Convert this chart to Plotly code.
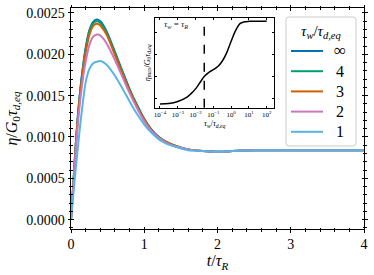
import plotly.graph_objects as go

# ---- main panel data ----
t = [0, 0.02, 0.04, 0.06, 0.08, 0.1, 0.125, 0.15, 0.175, 0.2, 0.25, 0.3, 0.35, 0.4, 0.45, 0.5,
     0.6, 0.7, 0.8, 0.9, 1.0, 1.1, 1.2, 1.3, 1.4, 1.5, 1.6, 1.8, 2.0, 2.2, 2.5, 3.0, 3.5, 4.0]

eta_inf = [0, 0.00027, 0.00055, 0.00085, 0.00110, 0.00133, 0.00156, 0.00176, 0.00193, 0.00208,
           0.00229, 0.00239, 0.00242, 0.00240, 0.00234, 0.00225, 0.00203, 0.00180, 0.00158,
           0.00139, 0.00122, 0.00109, 0.00100, 0.00094, 0.00090, 0.00087, 0.00085, 0.00083,
           0.00082, 0.00083, 0.00084, 0.00084, 0.00084, 0.00084]
eta_4 = [0, 0.00027, 0.00055, 0.00084, 0.00109, 0.00132, 0.00155, 0.00174, 0.00191, 0.00206,
         0.00227, 0.00237, 0.00240, 0.00238, 0.00232, 0.00223, 0.00201, 0.00179, 0.00157,
         0.00138, 0.00121, 0.00108, 0.00100, 0.00094, 0.00090, 0.00087, 0.00085, 0.00083,
         0.00082, 0.00083, 0.00084, 0.00084, 0.00084, 0.00084]
eta_3 = [0, 0.00027, 0.00054, 0.00082, 0.00107, 0.00129, 0.00152, 0.00171, 0.00188, 0.00202,
         0.00223, 0.00234, 0.00237, 0.00235, 0.00229, 0.00221, 0.00199, 0.00177, 0.00156,
         0.00137, 0.00121, 0.00108, 0.00099, 0.00094, 0.00090, 0.00087, 0.00085, 0.00083,
         0.00082, 0.00083, 0.00084, 0.00084, 0.00084, 0.00084]
eta_2 = [0, 0.00026, 0.00052, 0.00078, 0.00101, 0.00122, 0.00144, 0.00162, 0.00178, 0.00191,
         0.00211, 0.00221, 0.00224, 0.00223, 0.00218, 0.00211, 0.00193, 0.00173, 0.00153,
         0.00135, 0.00119, 0.00107, 0.00099, 0.00093, 0.00089, 0.00087, 0.00085, 0.00083,
         0.00082, 0.00083, 0.00084, 0.00084, 0.00084, 0.00084]
eta_1 = [0, 0.00019, 0.00038, 0.00057, 0.00075, 0.00093, 0.00114, 0.00133, 0.00151, 0.00166,
         0.00182, 0.00189, 0.00191, 0.00192, 0.00190, 0.00186, 0.00174, 0.00159, 0.00143,
         0.00128, 0.00115, 0.00105, 0.00097, 0.00092, 0.00089, 0.00086, 0.00084, 0.00083,
         0.00082, 0.00083, 0.00084, 0.00084, 0.00084, 0.00084]

series_names = ["∞", "4", "3", "2", "1"]
series_values = [eta_inf, eta_4, eta_3, eta_2, eta_1]
series_colors = ["#0173b2", "#029e73", "#d55e00", "#cc78bc", "#56b4e9"]
legend_title = "<i>τ</i><sub><i>w</i></sub>/<i>τ</i><sub><i>d,eq</i></sub>"

y_ticks = [0.0000, 0.0005, 0.0010, 0.0015, 0.0020, 0.0025]
y_tick_labels = ["0.0000", "0.0005", "0.0010", "0.0015", "0.0020", "0.0025"]
x_ticks = [0, 1, 2, 3, 4]

# ---- inset data ----
tau_w = [1e-4, 3.16e-4, 1e-3, 3.16e-3, 5.62e-3, 1e-2, 1.78e-2, 3.16e-2, 5.62e-2, 1e-1,
         1.78e-1, 3.16e-1, 5.62e-1, 1.0, 1.78, 3.16, 5.62, 10, 31.6, 100]
eta_max = [0.000386, 0.000395, 0.000440, 0.000534, 0.000620, 0.000727, 0.000870, 0.00101,
           0.00110, 0.00116, 0.00123, 0.00135, 0.00154, 0.00180, 0.00204, 0.00220, 0.00224,
           0.00225, 0.00225, 0.00225]
tau_R_line = 0.031
inset_x_ticks = [1e-4, 1e-3, 1e-2, 1e-1, 1e0, 1e1, 1e2]
inset_x_labels = ["10<sup>−4</sup>", "10<sup>−3</sup>", "10<sup>−2</sup>", "10<sup>−1</sup>",
                  "10<sup>0</sup>", "10<sup>1</sup>", "10<sup>2</sup>"]
inset_y_ticks = [0.0005, 0.0010, 0.0015, 0.0020]

FONT = "Liberation Serif"
W, H = 374, 275
ML, MR, MT, MB = 71, 10, 8, 46
PW, PH = W - ML - MR, H - MT - MB


def px_x(p):
    return (p - ML) / PW


def px_y(p):
    return (H - MB - p) / PH


fig = go.Figure()
for name, vals, col in zip(series_names, series_values, series_colors):
    fig.add_trace(go.Scatter(x=t, y=vals, mode="lines", name=name, showlegend=False,
                             line=dict(color=col, width=2, shape="spline", smoothing=0.8)))

# dummy trace for the overlay (inner tick) axes
fig.add_trace(go.Scatter(x=[None], y=[None], xaxis="x3", yaxis="y3", showlegend=False,
                         hoverinfo="skip"))

# inset curve
fig.add_trace(go.Scatter(x=tau_w, y=eta_max, xaxis="x2", yaxis="y2", mode="lines",
                         line=dict(color="black", width=1.5, shape="spline"), showlegend=False))

xr = [0, 4]
yr = [-0.000113, 0.00256]

common_axis = dict(showgrid=False, zeroline=False, color="black", automargin=False)

fig.update_layout(
    width=W, height=H,
    margin=dict(l=ML, r=MR, t=MT, b=MB),
    paper_bgcolor="white", plot_bgcolor="white",
    font=dict(family=FONT, color="black", size=14),
    showlegend=False,
    xaxis=dict(range=xr, tickvals=x_ticks, ticks="outside", ticklen=2.5, tickwidth=1,
               mirror="allticks", showline=True, linecolor="black", linewidth=1,
               minor=dict(dtick=0.2, ticks="outside", ticklen=1.5, tickcolor="black"),
               tickfont=dict(size=14, family=FONT),
               title=dict(text="<i>t</i>/<i>τ</i><sub><i>R</i></sub>",
                          font=dict(size=16, family=FONT), standoff=2),
               **common_axis),
    yaxis=dict(range=yr, tickvals=y_ticks, ticktext=y_tick_labels, ticks="outside",
               ticklen=2.5, tickwidth=1, mirror="allticks", showline=True,
               linecolor="black", linewidth=1,
               minor=dict(dtick=0.0001, ticks="outside", ticklen=1.5, tickcolor="black"),
               tickfont=dict(size=14, family=FONT),
               title=dict(text="<i>η</i>/<i>G</i><sub>0</sub><i>τ</i><sub><i>d,eq</i></sub>",
                          font=dict(size=16, family=FONT), standoff=4),
               **common_axis),
    xaxis3=dict(range=xr, overlaying="x", anchor="y3", tickvals=x_ticks, ticks="inside",
                ticklen=2.5, mirror="allticks", showticklabels=False, showline=False,
                minor=dict(dtick=0.2, ticks="inside", ticklen=1.5, tickcolor="black"),
                **common_axis),
    yaxis3=dict(range=yr, overlaying="y", anchor="x3", tickvals=y_ticks, ticks="inside",
                ticklen=2.5, mirror="allticks", showticklabels=False, showline=False,
                minor=dict(dtick=0.0001, ticks="inside", ticklen=1.5, tickcolor="black"),
                **common_axis),
    xaxis2=dict(type="log", range=[-4.28, 2.43], domain=[px_x(155), px_x(274.3)], anchor="y2",
                tickvals=inset_x_ticks, ticktext=inset_x_labels, ticks="inside", ticklen=2,
                mirror="allticks", showline=True, linecolor="black", linewidth=1,
                tickfont=dict(size=7, family=FONT),
                title=dict(text="<i>τ</i><sub><i>w</i></sub>/<i>τ</i><sub><i>d,eq</i></sub>",
                           font=dict(size=8, family=FONT), standoff=1),
                **common_axis),
    yaxis2=dict(range=[0.000302, 0.00233], domain=[px_y(107.7), px_y(17.8)], anchor="x2",
                tickvals=inset_y_ticks, ticks="inside", ticklen=2, mirror="allticks",
                showticklabels=False, showline=True, linecolor="black", linewidth=1,
                title=dict(text="<i>η</i><sub>max</sub>/<i>G</i><sub>0</sub><i>τ</i><sub><i>d,eq</i></sub>",
                           font=dict(size=8, family=FONT), standoff=2),
                **common_axis),
)

fig.add_shape(type="line", xref="x2", yref="y2 domain", x0=tau_R_line, x1=tau_R_line,
              y0=0, y1=1, line=dict(color="black", width=1.5, dash="dash"))
fig.add_annotation(text="<i>τ</i><sub><i>w</i></sub> = <i>τ</i><sub><i>R</i></sub>",
                   xref="paper", yref="paper", x=px_x(162), y=px_y(25), xanchor="left",
                   yanchor="middle", showarrow=False,
                   font=dict(size=9, color="#222", family=FONT))

# ---- legend box (drawn by hand to match the reference layout) ----
bx0, bx1, by0, by1, r = 286, 356, 17, 146, 3
path = (f"M {px_x(bx0 + r)},{px_y(by0)} L {px_x(bx1 - r)},{px_y(by0)} "
        f"Q {px_x(bx1)},{px_y(by0)} {px_x(bx1)},{px_y(by0 + r)} "
        f"L {px_x(bx1)},{px_y(by1 - r)} Q {px_x(bx1)},{px_y(by1)} {px_x(bx1 - r)},{px_y(by1)} "
        f"L {px_x(bx0 + r)},{px_y(by1)} Q {px_x(bx0)},{px_y(by1)} {px_x(bx0)},{px_y(by1 - r)} "
        f"L {px_x(bx0)},{px_y(by0 + r)} Q {px_x(bx0)},{px_y(by0)} {px_x(bx0 + r)},{px_y(by0)} Z")
fig.add_shape(type="path", path=path, xref="paper", yref="paper",
              line=dict(color="#cccccc", width=1), fillcolor="rgba(255,255,255,0.8)",
              layer="above")
fig.add_annotation(text=legend_title, xref="paper", yref="paper", x=px_x(321), y=px_y(32),
                   showarrow=False, xanchor="center", yanchor="middle",
                   font=dict(size=15, family=FONT))
for i, (name, col) in enumerate(zip(series_names, series_colors)):
    yy = 51 + 20.2 * i
    fig.add_shape(type="line", xref="paper", yref="paper", x0=px_x(291), x1=px_x(323),
                  y0=px_y(yy), y1=px_y(yy), line=dict(color=col, width=2), layer="above")
    fig.add_annotation(text=name, xref="paper", yref="paper", x=px_x(340), y=px_y(yy),
                       showarrow=False, xanchor="center", yanchor="middle",
                       font=dict(size=17 if name == "∞" else 16, family=FONT))

fig.write_html("out.html", post_script="document.body.style.margin='0';",
               config={"displayModeBar": False})
